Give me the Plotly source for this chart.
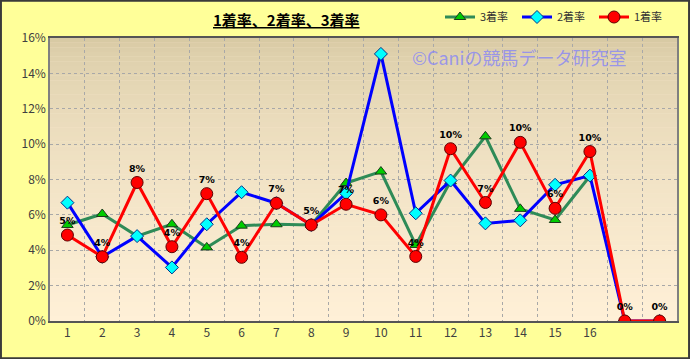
import plotly.graph_objects as go

categories = list(range(1, 19))
tick_labels = [str(i) for i in range(1, 17)] + ["", ""]

rate1 = [4.86, 3.63, 7.83, 4.20, 7.20, 3.60, 6.66, 5.43, 6.60, 6.00, 3.65, 9.74, 6.70, 10.10, 6.37, 9.58, 0.0, 0.0]
rate2 = [6.69, 3.63, 4.80, 3.03, 5.47, 7.28, 6.66, 5.43, 7.22, 15.10, 6.09, 7.94, 5.52, 5.69, 7.70, 8.22, 0.0, 0.0]
rate3 = [5.43, 6.05, 4.80, 5.47, 4.16, 5.39, 5.47, 5.43, 7.80, 8.45, 4.30, 7.90, 10.44, 6.34, 5.71, 8.20, None, None]

def frac(v):
    return [None if x is None else x / 100 for x in v]

FONT = "Noto Sans CJK JP"
fig = go.Figure()

fig.add_trace(go.Scatter(
    x=categories, y=frac(rate3), name="3着率", mode="lines+markers",
    line=dict(color="#2E8B57", width=3),
    marker=dict(symbol="triangle-up", size=10, color="#00CC00", line=dict(color="#1a3a1a", width=1)),
))
fig.add_trace(go.Scatter(
    x=categories, y=frac(rate2), name="2着率", mode="lines+markers",
    line=dict(color="#0000FF", width=3),
    marker=dict(symbol="diamond", size=10, color="#00FFFF", line=dict(color="#00308a", width=1)),
))
fig.add_trace(go.Scatter(
    x=categories, y=frac(rate1), name="1着率", mode="lines+markers+text",
    line=dict(color="#FF0000", width=3),
    marker=dict(symbol="circle", size=12, color="#FF0000", line=dict(color="#600000", width=1)),
    texttemplate="<b>%{y:.0%}</b>", textposition="top center",
    textfont=dict(family="DejaVu Sans", size=9.5, color="#000000"),
))

# gradient background bands
n = 60
top = (213, 199, 160)
bot = (255, 240, 215)
shapes = []
for i in range(n):
    t = (i + 0.5) / n
    g = t ** 0.55
    c = tuple(int(round(top[k] + (bot[k] - top[k]) * g)) for k in range(3))
    shapes.append(dict(type="rect", xref="x domain", yref="y domain",
                       x0=0, x1=1, y0=1 - (i + 1) / n, y1=1 - i / n + 0.001,
                       fillcolor="rgb(%d,%d,%d)" % c, line=dict(width=0), layer="below"))

W, H = 690, 359
ml, mr, mt, mb = 50, 13, 38, 38
pw, ph = W - ml - mr, H - mt - mb
shapes.append(dict(type="rect", xref="paper", yref="paper",
                   x0=-ml / pw + 0.0015, x1=1 + mr / pw - 0.0015,
                   y0=-mb / ph + 0.003, y1=1 + mt / ph - 0.003,
                   line=dict(color="#3a3a3a", width=2), layer="above"))

fig.update_layout(
    width=W, height=H,
    margin=dict(l=ml, r=mr, t=mt, b=mb, autoexpand=False),
    paper_bgcolor="#FFFF99",
    plot_bgcolor="#FFF0D8",
    shapes=shapes,
    showlegend=True,
    legend=dict(orientation="h", x=(440 - ml) / pw, y=1 + 21 / ph, xanchor="left", yanchor="middle",
                font=dict(family=FONT, size=11, color="#333333"),
                bgcolor="rgba(0,0,0,0)", itemwidth=30, tracegroupgap=0,
                entrywidth=32, entrywidthmode="pixels"),
    annotations=[
        dict(text="<b><u>1着率、2着率、3着率</u></b>", xref="paper", yref="paper",
             x=(286 - ml) / pw, y=1 + (mt - 20) / ph, xanchor="center", yanchor="middle",
             showarrow=False, font=dict(family=FONT, size=15, color="#000000")),
        dict(text="©Caniの競馬データ研究室", xref="paper", yref="paper",
             x=(410 - ml) / pw, y=1 - (57 - mt) / ph, xanchor="left", yanchor="middle",
             showarrow=False, font=dict(family=FONT, size=18, color="rgba(130,130,250,0.75)")),
    ],
)

fig.update_xaxes(
    range=[0.5, 18.5], tickmode="array", tickvals=categories, ticktext=tick_labels,
    showgrid=False, zeroline=False, ticks="",
    showline=True, linecolor="#555555", linewidth=1.5, mirror=True,
    tickfont=dict(family=FONT, size=12, color="#404040"),
    minor=dict(tickmode="array", tickvals=[i + 0.5 for i in range(19)], showgrid=True,
               gridcolor="#a8a8a8", griddash="dot", gridwidth=1, ticks=""),
)
fig.update_yaxes(
    range=[0, 0.16], tickmode="array", tickvals=[i / 100 for i in range(0, 17, 2)],
    tickformat=".0%", showgrid=True, gridcolor="#a8a8a8", griddash="dot", gridwidth=1,
    zeroline=False, showline=True, linecolor="#808080", linewidth=1.5, mirror=True,
    tickfont=dict(family=FONT, size=12, color="#404040"), ticks="", ticklen=0,
)

fig.write_html("out.html")
